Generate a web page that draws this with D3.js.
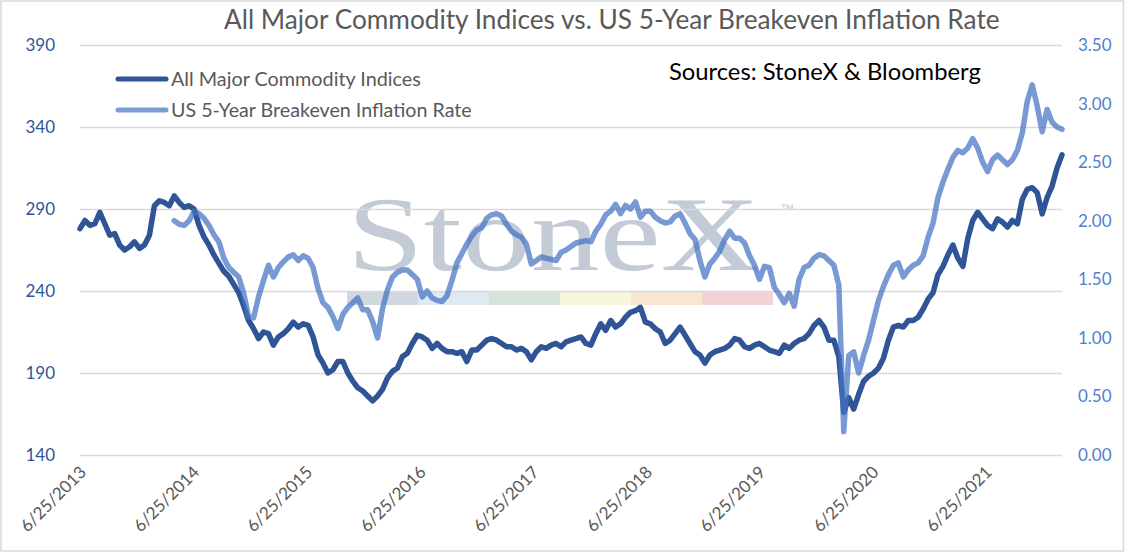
<!DOCTYPE html>
<html><head><meta charset="utf-8">
<script src="https://cdn.jsdelivr.net/npm/d3@7"></script>
<style>body{margin:0;background:#fff} svg{display:block}</style>
</head><body><svg id="c" width="1125" height="553"></svg>
<script>
// ---- data (sampled every 16 days starting 6/25/2013) ----
const startDate = "2013-06-25";
const stepDays = 16;
const commodity = [
278,283,280,281,288,281,274,275,268,265,
267,270,266,268,274,292,295,294,292,298,
294,291,292,290,280,273,268,262,257,252,
249,244,239,231,222,217,211,215,214,207,
212,214,217,221,218,220,219,212,201,196,
190,192,197,197,190,185,181,179,176,173,
176,180,187,191,193,200,202,208,213,212,
210,205,208,205,203,203,202,203,197,204,
204,207,210,211,210,208,206,206,204,205,
203,198,203,206,205,207,208,206,209,210,
211,212,208,207,214,220,216,222,218,220,
224,227,228,230,221,220,217,215,208,210,
214,218,213,208,203,201,196,201,203,204,
205,207,211,210,206,205,207,208,206,204,
203,202,207,205,208,210,211,214,219,222,
218,210,210,200,166,175,168,177,185,188,
190,193,199,210,218,219,218,222,222,224,
229,235,239,250,255,262,268,260,255,272,
283,288,284,280,278,284,282,279,283,281,
296,302,303,300,287,297,304,315,323];
const breakeven = [
null,null,null,null,null,null,null,null,null,null,
null,null,null,null,null,null,null,null,null,2.00,
1.97,1.96,2.00,2.08,2.06,2.02,1.96,1.88,1.82,1.68,
1.60,1.56,1.52,1.38,1.18,1.17,1.35,1.49,1.62,1.52,
1.60,1.65,1.69,1.71,1.66,1.70,1.68,1.60,1.42,1.30,
1.26,1.18,1.08,1.20,1.26,1.30,1.34,1.24,1.24,1.14,
1.00,1.25,1.41,1.52,1.56,1.58,1.58,1.54,1.50,1.35,
1.40,1.34,1.32,1.31,1.36,1.49,1.64,1.72,1.80,1.87,
1.92,1.94,2.02,2.05,2.06,2.04,1.97,1.91,1.88,1.86,
1.80,1.63,1.66,1.69,1.68,1.67,1.66,1.73,1.75,1.78,
1.81,1.82,1.83,1.82,1.91,1.97,2.05,2.08,2.14,2.06,
2.13,2.10,2.16,2.03,2.08,2.08,2.03,2.00,1.98,1.99,
2.04,2.06,1.98,1.89,1.84,1.66,1.52,1.63,1.68,1.74,
1.84,1.91,1.85,1.85,1.81,1.70,1.62,1.50,1.61,1.60,
1.43,1.37,1.30,1.38,1.27,1.50,1.60,1.62,1.68,1.71,
1.70,1.66,1.62,1.45,0.20,0.85,0.88,0.70,0.85,0.98,
1.15,1.32,1.44,1.54,1.62,1.64,1.52,1.58,1.62,1.64,
1.70,1.86,1.98,2.20,2.33,2.44,2.54,2.60,2.58,2.62,
2.70,2.62,2.50,2.42,2.52,2.56,2.52,2.48,2.52,2.60,
2.75,3.02,3.16,2.98,2.76,2.95,2.84,2.80,2.78];
const tickDates = ["2013-06-25","2014-06-25","2015-06-25","2016-06-25","2017-06-25","2018-06-25","2019-06-25","2020-06-25","2021-06-25"];
const tickLabels = ["6/25/2013","6/25/2014","6/25/2015","6/25/2016","6/25/2017","6/25/2018","6/25/2019","6/25/2020","6/25/2021"];
const leftTicks = [140,190,240,290,340,390];
const rightTicks = [0,0.5,1,1.5,2,2.5,3,3.5];
const seriesNames = ["All Major Commodity Indices","US 5-Year Breakeven Inflation Rate"];
const titleText = "All Major Commodity Indices vs. US 5-Year Breakeven Inflation Rate";
const sourceText = "Sources: StoneX & Bloomberg";
const bandColors = ["#d0d7df","#dde9f3","#d5e4da","#f7f6dd","#f8e6d3","#f2d4d6"];

// ---- layout ----
const W=1125,H=553, L=80, R=1062, T=45, B=455;
const FONT = "Lato, 'Open Sans', sans-serif";
const parse = d3.timeParse("%Y-%m-%d");
const t0 = parse(startDate);
const dates = commodity.map((_,i)=>d3.timeDay.offset(t0, i*stepDays));
const x = d3.scaleTime().domain([t0, dates[dates.length-1]]).range([L,R]);
const yL = d3.scaleLinear().domain([140,390]).range([B,T]);
const yR = d3.scaleLinear().domain([0,3.5]).range([B,T]);

const svg = d3.select("#c");
svg.append("rect").attr("x",0).attr("y",0).attr("width",W).attr("height",H).attr("fill","#fff");
svg.append("rect").attr("x",1).attr("y",1).attr("width",W-2.5).attr("height",H-3)
  .attr("fill","none").attr("stroke","#d9d9d9").attr("stroke-width",1.5);

// watermark
const wm = svg.append("g");
wm.append("text").attr("x",347).attr("y",270).attr("font-family","'Liberation Serif', 'DejaVu Serif', serif")
  .attr("font-size",106).attr("fill","#c3cbd6").attr("textLength",413).attr("lengthAdjust","spacingAndGlyphs").text("StoneX");
wm.append("text").attr("x",780).attr("y",214).attr("font-family","'Liberation Sans', sans-serif")
  .attr("font-size",14).attr("fill","#c3cbd6").text("™");
wm.selectAll("rect.band").data(bandColors).enter().append("rect")
  .attr("x",(d,i)=>347+i*71).attr("y",292).attr("width",71).attr("height",13).attr("fill",d=>d);

// gridlines
svg.append("g").selectAll("line").data(leftTicks).enter().append("line")
  .attr("x1",L).attr("x2",R).attr("y1",d=>yL(d)+0.5).attr("y2",d=>yL(d)+0.5)
  .attr("stroke","#d9d9d9").attr("stroke-width",1.3);

// left axis labels
svg.append("g").selectAll("text").data(leftTicks).enter().append("text")
  .attr("x",55).attr("y",d=>yL(d)).attr("dy","0.35em").attr("text-anchor","end")
  .attr("font-family",FONT).attr("font-size",17).attr("fill","#2f5597").text(d=>d);
// right axis labels
svg.append("g").selectAll("text").data(rightTicks).enter().append("text")
  .attr("x",1078).attr("y",d=>yR(d)).attr("dy","0.35em").attr("text-anchor","start")
  .attr("font-family",FONT).attr("font-size",17).attr("fill","#4f7fd0").text(d=>d3.format(".2f")(d));
// x labels
svg.append("g").selectAll("text").data(tickDates).enter().append("text")
  .attr("transform",d=>`translate(${x(parse(d))+3},${469}) rotate(-45)`)
  .attr("text-anchor","end").attr("dy","0.35em")
  .attr("font-family",FONT).attr("font-size",17).attr("fill","#595959")
  .text((d,i)=>tickLabels[i]);

// lines
const lineL = d3.line().defined(d=>d!=null).x((d,i)=>x(dates[i])).y(d=>yL(d));
const lineR = d3.line().defined(d=>d!=null).x((d,i)=>x(dates[i])).y(d=>yR(d));
svg.append("path").attr("d",lineL(commodity)).attr("fill","none").attr("stroke","#2f5597")
  .attr("stroke-width",5.5).attr("stroke-linejoin","round").attr("stroke-linecap","round");
svg.append("path").attr("d",lineR(breakeven)).attr("fill","none").attr("stroke","#4472c4")
  .attr("stroke-opacity",0.72).attr("stroke-width",5.5).attr("stroke-linejoin","round").attr("stroke-linecap","round");

function fit(sel,w){const l=sel.node().getComputedTextLength();const fs=parseFloat(sel.attr("font-size"));sel.attr("font-size",fs*w/l);}

// title
const title = svg.append("text").attr("x",224).attr("y",29).attr("font-family",FONT).attr("font-size",21)
  .attr("fill","#595959").text(titleText);
fit(title,776);
// legend
const legColors=["#2f5597","#7c9cd6"], legY=[79,110], legW=[250,301];
seriesNames.forEach((n,i)=>{
  svg.append("line").attr("x1",118).attr("x2",166).attr("y1",legY[i]).attr("y2",legY[i])
    .attr("stroke",legColors[i]).attr("stroke-width",5).attr("stroke-linecap","round");
  const t=svg.append("text").attr("x",171).attr("y",legY[i]).attr("dy","0.35em").attr("font-family",FONT)
    .attr("font-size",16).attr("fill","#595959").text(n);
  fit(t,legW[i]);
});
// source
const src = svg.append("text").attr("x",669).attr("y",72).attr("dy","0.35em").attr("font-family",FONT)
  .attr("font-size",18).attr("fill","#000").text(sourceText);
fit(src,312);
</script></body></html>
